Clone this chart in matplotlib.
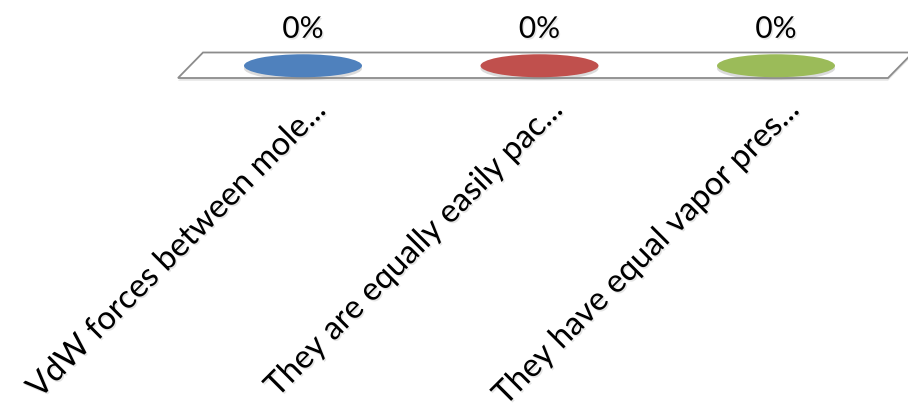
import matplotlib
matplotlib.use("Agg")
import matplotlib.pyplot as plt
from matplotlib.patches import Ellipse, Polygon
import matplotlib.patheffects as pe

categories = ["VdW forces between mole...", "They are equally easily pac...", "They have equal vapor pres..."]
values = [0.0, 0.0, 0.0]
colors = ["#4F81BD", "#C0504D", "#9BBB59"]

W, H = 908, 418
fig = plt.figure(figsize=(W / 100, H / 100), dpi=100)
ax = fig.add_axes([0, 0, 1, 1])
# x: category units (spacing 236.5 px, first at px 303); y: pixel rows from top
x0, dx = 303.0, 236.5
ax.set_xlim(-x0 / dx, (W - x0) / dx)
ax.set_ylim(H, 0)
ax.axis("off")

font = "Lato"
floor_front, floor_back = 78.0, 52.5
skew = 25.0 / dx
fl, fr = (178 - x0) / dx, (888 - x0) / dx
floor = Polygon([(fl, floor_front), (fr, floor_front), (fr + skew, floor_back), (fl + skew, floor_back)],
                closed=True, facecolor="white", edgecolor="#8c8c8c", linewidth=1.3,
                path_effects=[pe.SimplePatchShadow(offset=(0, -2), shadow_rgbFace="#aaaaaa", alpha=0.3), pe.Normal()])
ax.add_patch(floor)

shadow = [pe.SimplePatchShadow(offset=(0, -2), shadow_rgbFace="#888888", alpha=0.3), pe.Normal()]
tshadow = [pe.withSimplePatchShadow(offset=(1.0, -1.2), shadow_rgbFace="#aaaaaa", alpha=0.3)]
ymid = (floor_front + floor_back) / 2 + 0.5
scale = 40.0  # px per unit value (bars of zero height)
for i, (cat, v, c) in enumerate(zip(categories, values, colors)):
    ytop = ymid - v * scale
    e = Ellipse((i, ytop), width=118 / dx, height=23, facecolor=c, edgecolor="none", path_effects=shadow)
    ax.add_patch(e)
    ax.text(i, ytop - 37, f"{v:.0%}", ha="center", va="center", fontsize=21.5, family=font,
            color="black", path_effects=tshadow)
    ax.text(i + 24 / dx, 112, cat, ha="right", va="baseline", rotation=45, rotation_mode="anchor",
            fontsize=23.5, family=font, color="black", path_effects=tshadow)

fig.savefig("out.png", dpi=100)
